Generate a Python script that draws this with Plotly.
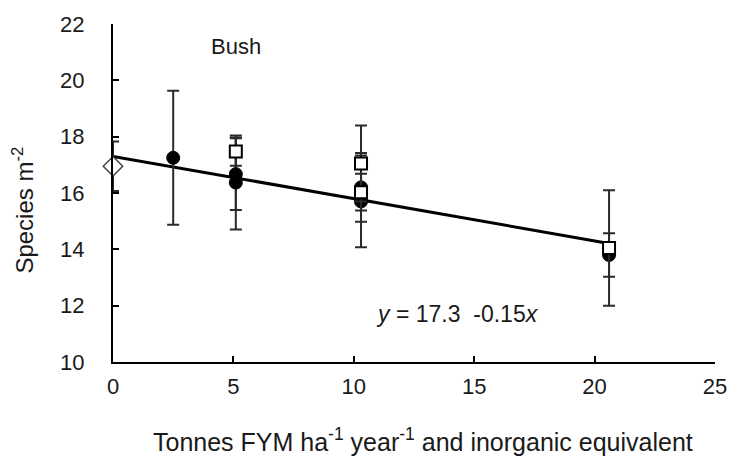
import plotly.graph_objects as go

# ---- data ----
diamond_x = [0]
diamond_y = [16.95]
diamond_err = [0.88]

circle_x = [2.5, 5.1, 5.1, 10.3, 10.3, 20.6]
circle_y = [17.25, 16.67, 16.37, 16.2, 15.7, 13.8]
circle_err = [2.38, 1.27, 1.67, 1.22, 1.63, 0.77]

square_x = [5.1, 10.3, 10.3, 20.6]
square_y = [17.47, 17.05, 16.03, 14.05]
square_err = [0.5, 1.35, 0.65, 2.05]

fit_intercept = 17.3
fit_slope = -0.15
fit_x = [0, 20.6]
fit_y = [fit_intercept + fit_slope * v for v in fit_x]

x_ticks = [0, 5, 10, 15, 20, 25]
y_ticks = [10, 12, 14, 16, 18, 20, 22]

FONT = "Liberation Sans, Arial, Helvetica, sans-serif"
INK = "#1a1a1a"

fig = go.Figure()

fig.add_trace(go.Scatter(x=fit_x, y=fit_y, mode="lines",
                         line=dict(color="black", width=3), showlegend=False))

err_style = dict(type="data", visible=True, color="#2a2a2a", thickness=2, width=6)

fig.add_trace(go.Scatter(
    x=circle_x, y=circle_y, mode="markers",
    error_y=dict(array=circle_err, **err_style),
    marker=dict(symbol="circle", size=13, color="black", line=dict(color="black", width=1)),
    showlegend=False))

fig.add_trace(go.Scatter(
    x=square_x, y=square_y, mode="markers",
    error_y=dict(array=square_err, **err_style),
    marker=dict(symbol="square", size=12, color="white", line=dict(color="black", width=2)),
    showlegend=False))

fig.add_trace(go.Scatter(
    x=diamond_x, y=diamond_y, mode="markers",
    error_y=dict(array=diamond_err, **err_style),
    marker=dict(symbol="diamond", size=15, color="white", line=dict(color="#444", width=1.5)),
    showlegend=False, cliponaxis=False))

fig.update_layout(
    width=739, height=460,
    margin=dict(l=113, r=17, t=20, b=98),
    plot_bgcolor="white", paper_bgcolor="white",
    font=dict(family=FONT, size=22, color=INK),
    xaxis=dict(range=[0, 25], tickvals=x_ticks, showgrid=False, zeroline=False,
               showline=True, linecolor="black", linewidth=2,
               ticks="inside", ticklen=6, tickwidth=2, tickcolor="black",
               ticklabelstandoff=4, tickfont=dict(size=22, color=INK)),
    yaxis=dict(range=[10, 22], tickvals=y_ticks, showgrid=False, zeroline=False,
               showline=True, linecolor="black", linewidth=2,
               ticks="inside", ticklen=6, tickwidth=2, tickcolor="black",
               ticklabelstandoff=22, tickfont=dict(size=22, color=INK)),
    annotations=[
        dict(text="Tonnes FYM ha<sup>-1</sup> year<sup>-1</sup> and inorganic equivalent",
             xref="paper", yref="paper", x=0.515, y=-0.23, xanchor="center", yanchor="middle",
             showarrow=False, font=dict(size=25, color=INK)),
        dict(text="Species m<sup>-2</sup>", textangle=-90,
             xref="paper", yref="paper", x=-0.15, y=0.45, xanchor="center", yanchor="middle",
             showarrow=False, font=dict(size=24, color=INK)),
        dict(text="Bush", xref="x", yref="y", x=5.1, y=21.2, xanchor="center", yanchor="middle",
             showarrow=False, font=dict(size=22, color=INK)),
        dict(text="<i>y</i> = 17.3  -0.15<i>x</i>", xref="x", yref="y", x=14.3, y=11.7,
             xanchor="center", yanchor="middle",
             showarrow=False, font=dict(size=23, color=INK)),
    ],
)

fig.write_html("out.html")
